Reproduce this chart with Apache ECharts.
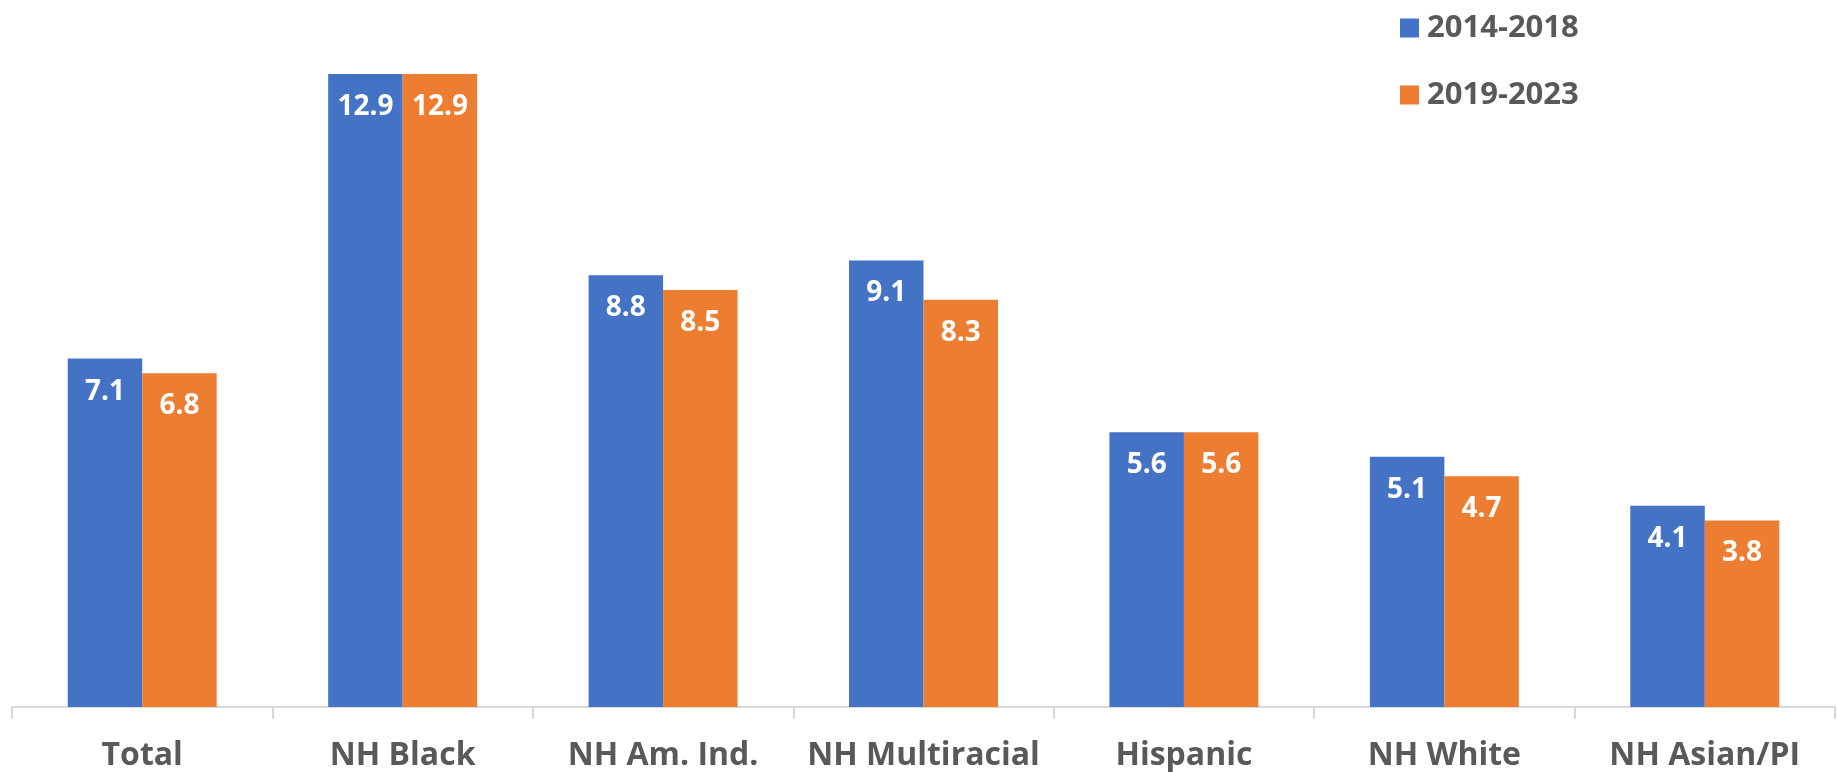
<!DOCTYPE html>
<html>
<head>
<meta charset="utf-8">
<script src="https://cdn.jsdelivr.net/npm/echarts@6/dist/echarts.min.js"></script>
<style>
html,body{margin:0;padding:0;background:#fff;}
#chart{width:1837px;height:772px;}
</style>
</head>
<body>
<div id="chart"></div>
<script>
const categories = ['Total', 'NH Black', 'NH Am. Ind.', 'NH Multiracial', 'Hispanic', 'NH White', 'NH Asian/PI'];
const seriesNames = ['2014-2018', '2019-2023'];
const values2014 = [7.1, 12.9, 8.8, 9.1, 5.6, 5.1, 4.1];
const values2019 = [6.8, 12.9, 8.5, 8.3, 5.6, 4.7, 3.8];

const FONT = '"Open Sans", "Noto Sans", sans-serif';
const chart = echarts.init(document.getElementById('chart'));

const labelStyle = {
  show: true,
  position: 'insideTop',
  distance: 19,
  color: '#ffffff',
  fontFamily: FONT,
  fontWeight: 'bold',
  fontSize: 28,
  formatter: p => p.value.toFixed(1)
};

chart.setOption({
  animation: false,
  backgroundColor: '#ffffff',
  grid: { left: 12, right: 2, top: 20, bottom: 63, containLabel: false },
  legend: {
    orient: 'vertical',
    left: 1395,
    top: 6,
    itemWidth: 19,
    itemHeight: 19,
    itemGap: 33,
    icon: 'rect',
    data: seriesNames,
    textStyle: {
      fontFamily: FONT,
      fontWeight: 'bold',
      fontSize: 31,
      lineHeight: 34,
      color: '#595959',
      padding: [0, 0, 0, 3]
    }
  },
  xAxis: {
    type: 'category',
    data: categories,
    axisLine: { lineStyle: { color: '#d9d9d9', width: 2 } },
    axisTick: { show: true, length: 12, lineStyle: { color: '#d9d9d9', width: 2 } },
    axisLabel: {
      margin: 33,
      fontFamily: FONT,
      fontWeight: 'bold',
      fontSize: 32,
      color: '#595959',
      interval: 0
    }
  },
  yAxis: {
    type: 'value',
    min: 0,
    max: 14,
    show: false,
    splitLine: { show: false }
  },
  series: [
    {
      name: seriesNames[0],
      type: 'bar',
      data: values2014,
      barWidth: '28.6%',
      barGap: '0%',
      itemStyle: { color: '#4472C4' },
      label: labelStyle
    },
    {
      name: seriesNames[1],
      type: 'bar',
      data: values2019,
      barWidth: '28.6%',
      barGap: '0%',
      itemStyle: { color: '#ED7D31' },
      label: labelStyle
    }
  ]
});
</script>
</body>
</html>
